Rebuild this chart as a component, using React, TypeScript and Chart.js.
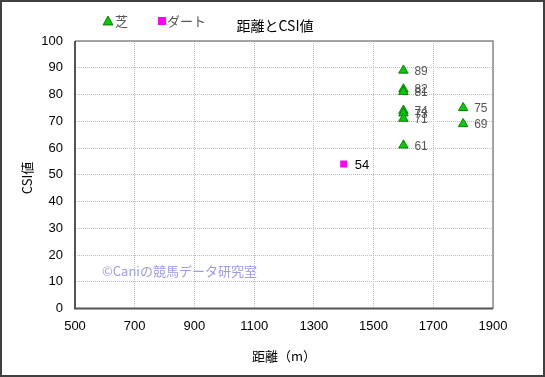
import React, { useEffect, useRef } from "react";
import { Chart, registerables } from "chart.js";

Chart.register(...registerables);

const turfDistance = [1600, 1600, 1600, 1600, 1600, 1600, 1600, 1800, 1800];
const turfCSI = [89, 82, 81, 74, 73, 71, 61, 75, 69];
const dirtDistance = [1400];
const dirtCSI = [54];
const seriesNames = ["芝", "ダート"];
const chartTitle = "距離とCSI値";
const xTitle = "距離（m）";
const yTitle = "CSI値";
const watermark = "©Caniの競馬データ研究室";

const FONT = '"Liberation Sans", "Noto Sans CJK JP", sans-serif';
const JFONT = '"Noto Sans CJK JP", "Liberation Sans", sans-serif';

export default function App() {
  const ref = useRef<HTMLCanvasElement | null>(null);
  useEffect(() => {
    document.body.style.margin = "0";
    const canvas = ref.current!;
    const decor = {
      id: "decor",
      beforeDraw(chart: any) {
        const c = chart.ctx;
        c.save();
        c.fillStyle = "#fff";
        c.fillRect(0, 0, chart.width, chart.height);
        c.restore();
      },
      beforeDatasetsDraw(chart: any) {
        const c = chart.ctx;
        const a = chart.chartArea;
        c.save();
        c.font = "13px " + JFONT;
        c.fillStyle = "#9a9af0";
        c.textBaseline = "middle";
        c.textAlign = "left";
        c.fillText(watermark, 102, 271);
        c.strokeStyle = "#8a8a8a";
        c.lineWidth = 1.5;
        c.beginPath();
        c.moveTo(a.left, a.top);
        c.lineTo(a.right, a.top);
        c.lineTo(a.right, a.bottom);
        c.stroke();
        c.strokeStyle = "#555";
        c.lineWidth = 2;
        c.beginPath();
        c.moveTo(a.left, a.top);
        c.lineTo(a.left, a.bottom);
        c.lineTo(a.right, a.bottom);
        c.stroke();
        c.restore();
      },
      afterDraw(chart: any) {
        const c = chart.ctx;
        const a = chart.chartArea;
        c.save();
        c.strokeStyle = "#404040";
        c.lineWidth = 2;
        c.strokeRect(1, 1, chart.width - 2, chart.height - 2);
        c.fillStyle = "#000";
        c.font = "14px " + JFONT;
        c.textAlign = "center";
        c.textBaseline = "middle";
        c.fillText(chartTitle, 275, 26);
        c.beginPath();
        c.moveTo(108, 16);
        c.lineTo(113, 25);
        c.lineTo(103, 25);
        c.closePath();
        c.fillStyle = "#00cc00";
        c.fill();
        c.strokeStyle = "#006600";
        c.lineWidth = 0.8;
        c.stroke();
        c.fillStyle = "#ff00ff";
        c.fillRect(158, 17, 8, 8);
        c.fillStyle = "#555";
        c.font = "13px " + JFONT;
        c.textAlign = "left";
        c.fillText(seriesNames[0], 115, 21);
        c.fillText(seriesNames[1], 167, 21);
        c.fillStyle = "#000";
        c.font = "13px " + JFONT;
        c.textAlign = "center";
        c.fillText(xTitle, (a.left + a.right) / 2, 356);
        c.translate(27, 178);
        c.rotate(-Math.PI / 2);
        c.fillText(yTitle, 0, 0);
        c.restore();
        c.save();
        c.textAlign = "left";
        c.textBaseline = "middle";
        chart.data.datasets.forEach((ds: any, di: number) => {
          const meta = chart.getDatasetMeta(di);
          meta.data.forEach((pt: any, i: number) => {
            if (di === 0) {
              c.font = "12px " + FONT;
              c.fillStyle = "#555";
            } else {
              c.font = "13px " + FONT;
              c.fillStyle = "#000";
            }
            c.fillText(String(ds.data[i].y), pt.x + 11, pt.y + 1);
          });
        });
        c.restore();
      },
    };
    const chart = new Chart(canvas, {
      type: "scatter",
      data: {
        datasets: [
          {
            label: seriesNames[0],
            data: turfDistance.map((x, i) => ({ x, y: turfCSI[i] })),
            pointStyle: "triangle",
            pointRadius: 5.5,
            backgroundColor: "#00cc00",
            borderColor: "#006600",
            borderWidth: 0.8,
          },
          {
            label: seriesNames[1],
            data: dirtDistance.map((x, i) => ({ x, y: dirtCSI[i] })),
            pointStyle: "rect",
            pointRadius: 5,
            backgroundColor: "#ff00ff",
            borderColor: "#ff00ff",
            borderWidth: 0,
          },
        ],
      },
      options: {
        responsive: false,
        animation: false,
        layout: { padding: { left: 0, right: 52, top: 41, bottom: 0 } },
        plugins: { legend: { display: false }, title: { display: false }, tooltip: { enabled: false } },
        scales: {
          x: {
            type: "linear",
            min: 500,
            max: 1900,
            afterFit: (s: any) => {
              s.height = 68.5;
            },
            ticks: {
              stepSize: 200,
              color: "#000",
              font: { size: 13, family: FONT },
              padding: 10,
              maxRotation: 0,
              callback: (v: any) => String(v),
            },
            grid: { color: "#bdbdbd", drawTicks: false, lineWidth: 1 },
            border: { display: false, dash: [1, 1] },
          },
          y: {
            type: "linear",
            min: 0,
            max: 100,
            afterFit: (s: any) => {
              s.width = 75;
            },
            ticks: {
              stepSize: 10,
              color: "#000",
              font: { size: 13, family: FONT },
              padding: 12,
              callback: (v: any) => String(v),
            },
            grid: { color: "#bdbdbd", drawTicks: false, lineWidth: 1 },
            border: { display: false, dash: [1, 1] },
          },
        },
      },
      plugins: [decor],
    });
    return () => chart.destroy();
  }, []);
  return (
    <div style={{ position: "absolute", left: 0, top: 0, width: 545, height: 377 }}>
      <canvas ref={ref} width={545} height={377} />
    </div>
  );
}
